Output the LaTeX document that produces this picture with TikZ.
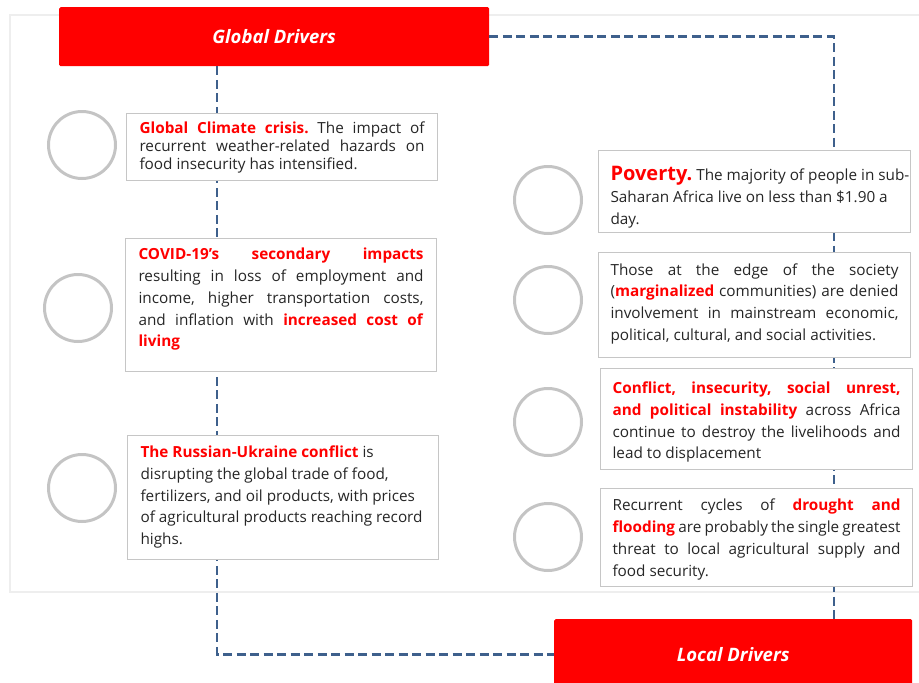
\documentclass[tikz,border=0pt]{standalone}
\usepackage{fontspec}
\setmainfont{Open Sans}

\definecolor{drvred}{HTML}{FF0000}
\definecolor{linkblue}{HTML}{3E608C}
\definecolor{boxgray}{HTML}{C6C6C6}
\definecolor{ringgray}{HTML}{C4C4C4}
\definecolor{bodytext}{HTML}{262626}
\definecolor{framegray}{HTML}{EEEEEE}

\newcommand{\keyterm}[1]{\textcolor{drvred}{\textbf{#1}}}
% text block: width, height, top gap, text
\newcommand{\drvtext}[4]{\parbox[t][#2pt][t]{#1pt}{\vspace*{#3pt}#4}}
\hbadness=10000
\frenchspacing

\begin{document}
\begin{tikzpicture}[x=1pt,y=-1pt,
  drvhead/.style={fill=drvred, rounded corners=1.5pt, text=white,
    font=\fontsize{18.5}{20}\selectfont\bfseries\itshape, anchor=north west, inner sep=0pt},
  drvbox/.style={draw=boxgray, line width=1.1pt, fill=white, text=bodytext,
    font=\fontsize{15.3}{21.8}\selectfont, anchor=north west, inner xsep=13pt, inner ysep=0pt},
  ring/.style={circle, draw=ringgray, line width=3pt, minimum size=67pt, inner sep=0pt},
  link/.style={draw=linkblue, line width=2.6pt, dash pattern=on 9pt off 4.5pt},
  outerframe/.style={draw=framegray, line width=1.5pt}]
\def\lw{285}
\def\rw{288}

\useasboundingbox (0,0) rectangle (919,683);
\clip (0,0) rectangle (919,683);

\draw[outerframe] (10,15) rectangle (930,592);

\node[drvhead, minimum width=430pt, minimum height=59pt] (global) at (59,7) {Global Drivers};
\node[drvhead, minimum width=358pt, minimum height=70pt] (local) at (554,619) {Local Drivers};

\coordinate (lcol) at (217,0);
\coordinate (rcol) at (834,0);
\draw[link] (global.south -| lcol) |- (local.west);
\draw[link] (global.east) -| (local.north -| rcol);

% global column
\node[drvbox] (climate) at (126,113) {\drvtext{\lw}{67}{8}{\fontsize{15.3}{18}\selectfont
  \keyterm{Global Climate crisis.} The impact of\linebreak
  recurrent weather-related hazards on\linebreak
  food insecurity has intensified.}};
\node[drvbox] (covid) at (125,238) {\drvtext{\lw}{133}{9.6}{%
  \keyterm{COVID-19's secondary impacts}\linebreak
  resulting in loss of employment and\linebreak
  income, higher transportation costs,\linebreak
  and inflation with \keyterm{increased cost of}\linebreak
  \keyterm{living}}};
\node[drvbox] (ukraine) at (127,435) {\drvtext{\lw}{124}{10.3}{\raggedright
  \keyterm{The Russian-Ukraine conflict} is\\
  disrupting the global trade of food,\\
  fertilizers, and oil products, with prices\\
  of agricultural products reaching record\\
  highs.}};

% local column
\node[drvbox, inner xsep=12pt] (poverty) at (598,150) {\drvtext{\rw}{82}{15.7}{\raggedright
  \mbox{\keyterm{\fontsize{20}{22}\selectfont Poverty.} The majority of people in sub-}\newline
  Saharan Africa live on less than \$1.90 a\newline
  day.}};
\node[drvbox, inner xsep=12pt] (margin) at (598,252) {\drvtext{\rw}{105}{10.9}{%
  Those at the edge of the society\linebreak
  (\keyterm{marginalized} communities) are denied\linebreak
  involvement in mainstream economic,\linebreak
  political, cultural, and social activities.}};
\node[drvbox, inner xsep=12pt] (unrest) at (600,368) {\drvtext{\rw}{101}{13.3}{%
  \keyterm{Conflict, insecurity, social unrest,}\linebreak
  \keyterm{and political instability} across Africa\linebreak
  continue to destroy the livelihoods and\linebreak
  lead to displacement}};
\node[drvbox, inner xsep=12pt] (drought) at (600,488) {\drvtext{\rw}{98}{10.6}{%
  Recurrent cycles of \keyterm{drought and}\linebreak
  \keyterm{flooding} are probably the single greatest\linebreak
  threat to local agricultural supply and\linebreak
  food security.}};

\foreach \name/\x/\y in {climate/82/145, covid/78/308, ukraine/82/488,
    poverty/548/200, margin/548/300, unrest/548/422, drought/548/537}
  \node[ring] (\name ring) at (\x,\y) {};

\end{tikzpicture}
\end{document}
